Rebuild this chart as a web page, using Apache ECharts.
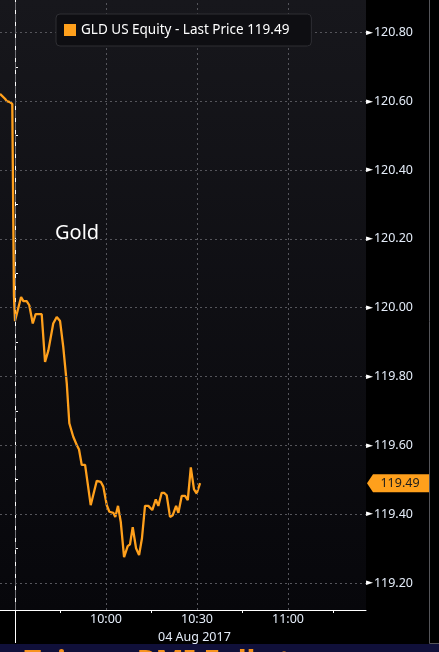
<!DOCTYPE html>
<html>
<head>
<meta charset="utf-8">
<script src="https://cdn.jsdelivr.net/npm/echarts@6/dist/echarts.min.js"></script>
<style>
html,body{margin:0;padding:0;background:#000;}
#chart{width:439px;height:652px;}
</style>
</head>
<body>
<div id="chart"></div>
<script>
// Minutes relative to the 09:30 open (04 Aug 2017)
const minutesFromOpen = [-4.95,-3.3,-2.7,-1.65,-0.9,-0.35,0,2.0,2.75,3.85,4.7,5.85,6.8,8.8,9.9,11.0,12.6,13.75,14.85,15.9,17.05,17.9,19.2,20.35,21.1,22.0,23.1,24.95,26.95,28.25,29.1,30.25,31.1,32.4,33.05,33.95,34.85,35.95,37.15,37.9,38.8,39.9,40.9,41.85,42.85,43.95,45.25,46.4,47.25,48.35,49.15,50.0,51.1,52.0,53.1,53.85,54.95,56.05,56.95,57.95,59.0,59.9,61.0];
const prices = [120.621,120.607,120.600,120.597,120.592,120.033,119.961,120.031,120.019,120.019,120.007,119.954,119.981,119.981,119.842,119.876,119.954,119.973,119.961,119.886,119.781,119.664,119.625,119.601,119.588,119.543,119.543,119.426,119.497,119.494,119.480,119.426,119.407,119.404,119.392,119.424,119.378,119.275,119.307,119.312,119.362,119.301,119.281,119.330,119.424,119.424,119.412,119.443,119.424,119.462,119.462,119.455,119.392,119.397,119.424,119.404,119.453,119.453,119.441,119.536,119.472,119.460,119.490];
const yTicks = [119.2,119.4,119.6,119.8,120.0,120.2,120.4,120.6,120.8];
const yMinorTicks = [119.3,119.5,119.7,119.9,120.1,120.3,120.5,120.7];
const xLabelTicks = [30,60,90];         // 10:00, 10:30, 11:00
const xMinorTicks = [15,45,75,105];     // 9:45, 10:15, 10:45, 11:15
const openTick = [0];                   // 09:30 open
const seriesLabel = 'GLD US Equity - Last Price';
const dateLabel = '04 Aug 2017';
const annotation = 'Gold';

const X_MIN = -4.95, X_MAX = 115.7, Y_MIN = 119.1215, Y_MAX = 120.894;
const lastPrice = prices[prices.length - 1];
const seriesName = seriesLabel + ' ' + lastPrice.toFixed(2);
const FONT = 'Noto Sans';
const LABEL_COLOR = '#e4ecf8';
const ORANGE = '#ffa01c';

function clock(t){
  const m = Math.round(570 + t);
  const h = Math.floor(m/60), mm = m % 60;
  return h + ':' + (mm < 10 ? '0' : '') + mm;
}

const chart = echarts.init(document.getElementById('chart'));
const gridLineStyle = {color:'#55555b', width:1, type:[2,3]};

chart.setOption({
  backgroundColor:'#000',
  animation:false,
  textStyle:{fontFamily:FONT},
  title:[
    {text:annotation, left:50, top:218, textStyle:{color:'#ffffff', fontSize:20, fontWeight:'normal', fontFamily:FONT}},
    {text:dateLabel, left:153, top:626, textStyle:{color:LABEL_COLOR, fontSize:12.5, fontWeight:'normal', fontFamily:FONT}}
  ],
  legend:{
    left:56, top:14, data:[seriesName], icon:'rect', itemWidth:12, itemHeight:12, itemGap:4,
    padding:[9,22,9,8], backgroundColor:'#0e0e12', borderColor:'#2e2e33', borderWidth:1, borderRadius:4,
    textStyle:{color:'#ffffff', fontSize:13.5, fontFamily:FONT}, z:10
  },
  grid:{
    left:0, right:73, top:0, bottom:42, show:true, borderWidth:0,
    backgroundColor:new echarts.graphic.LinearGradient(0,0,0,1,[{offset:0,color:'#17171c'},{offset:1,color:'#07070b'}])
  },
  xAxis:[
    {
      type:'value', min:X_MIN, max:X_MAX, position:'bottom',
      axisLine:{show:true, lineStyle:{color:'#ffffff', width:1}},
      axisTick:{show:true, customValues:xMinorTicks, length:3, lineStyle:{color:'#ffffff'}},
      axisLabel:{show:true, customValues:xLabelTicks, formatter:v=>clock(v), color:LABEL_COLOR, fontSize:12.5, margin:3, fontFamily:FONT},
      splitLine:{show:false}
    },
    {
      type:'value', min:X_MIN, max:X_MAX, position:'bottom',
      axisLine:{show:false},
      axisTick:{show:true, customValues:openTick, length:33, lineStyle:{color:'#ffffff'}},
      axisLabel:{show:false},
      splitLine:{show:false}
    }
  ],
  yAxis:{
    type:'value', min:Y_MIN, max:Y_MAX, position:'right',
    axisLine:{show:true, lineStyle:{color:'#ffffff', width:1}},
    axisTick:{show:true, customValues:yMinorTicks, length:3, lineStyle:{color:'#ffffff'}},
    axisLabel:{
      show:true, customValues:yTicks, margin:0,
      formatter:v=>'{t|►}{v|' + v.toFixed(2) + '}',
      rich:{
        t:{color:'#ffffff', fontSize:9, fontFamily:'DejaVu Sans'},
        v:{color:LABEL_COLOR, fontSize:12.5, fontFamily:FONT, padding:[0,0,0,1]}
      }
    },
    splitLine:{show:false}
  },
  series:[
    {
      name:'grid-lines', type:'line', data:[], xAxisIndex:0, silent:true, z:1,
      markLine:{
        silent:true, symbol:'none', label:{show:false}, animation:false,
        data:[
          ...yTicks.map(v=>({yAxis:v, lineStyle:gridLineStyle})),
          ...xLabelTicks.map(v=>({xAxis:v, lineStyle:gridLineStyle})),
          ...openTick.map(v=>({xAxis:v, lineStyle:{color:'#707075', width:1, type:[8,4]}}))
        ]
      }
    },
    {
      name:seriesName, type:'line', z:3,
      data:minutesFromOpen.map((t,i)=>[t, prices[i]]),
      showSymbol:false, smooth:false,
      lineStyle:{color:ORANGE, width:2.3},
      itemStyle:{color:ORANGE},
      markPoint:{
        silent:true, animation:false,
        symbol:'path://M0,9L6,0L62,0L62,18L6,18Z', symbolSize:[62,18], symbolKeepAspect:false,
        symbolOffset:[32,0],
        itemStyle:{color:ORANGE},
        label:{show:true, color:'#1c1c1c', fontSize:12.5, fontFamily:FONT, offset:[2,0], formatter:p=>lastPrice.toFixed(2)},
        data:[{coord:[X_MAX, lastPrice]}]
      }
    }
  ],
  graphic:[
    {type:'line', shape:{x1:429.5,y1:0,x2:429.5,y2:643.5}, style:{stroke:'#55555a', lineWidth:1}, silent:true},
    {type:'line', shape:{x1:429.5,y1:643.5,x2:439,y2:643.5}, style:{stroke:'#55555a', lineWidth:1}, silent:true},
    {type:'rect', shape:{x:0,y:644,width:439,height:8}, style:{fill:'#10103a'}, silent:true},
    {type:'text', x:24, y:648, style:{text:'Taiwan PMI Falls to', fill:'#f7931e', font:'bold 30px "Noto Sans"', textVerticalAlign:'top'}, silent:true}
  ]
});
</script>
</body>
</html>
